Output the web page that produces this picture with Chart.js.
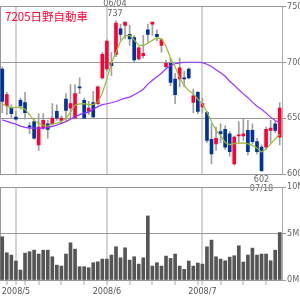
<!DOCTYPE html>
<html>
<head>
<meta charset="utf-8">
<script src="https://cdn.jsdelivr.net/npm/chart.js@4.4.0/dist/chart.umd.min.js"></script>
<style>
body { margin: 0; background: #fff; }
#wrap { position: relative; width: 300px; height: 300px; overflow: hidden; }
#wrap canvas { position: absolute; left: 0; }
#title { position: absolute; left: 5px; top: 10px; font: 11.5px/12px "Noto Sans CJK JP", sans-serif; color: #ff0033; white-space: nowrap; }
</style>
</head>
<body>
<div id="wrap">
  <canvas id="priceChart" width="300" height="200" style="top:0"></canvas>
  <canvas id="volumeChart" width="300" height="120" style="top:180px"></canvas>
  <div id="title">7205日野自動車</div>
</div>
<script>
// trading days 2008/04/25 - 2008/07/25
const dates = [
  '2008-04-25','2008-04-28','2008-04-30',
  '2008-05-01','2008-05-02','2008-05-07','2008-05-08','2008-05-09',
  '2008-05-12','2008-05-13','2008-05-14','2008-05-15','2008-05-16',
  '2008-05-19','2008-05-20','2008-05-21','2008-05-22','2008-05-23',
  '2008-05-26','2008-05-27','2008-05-28','2008-05-29','2008-05-30',
  '2008-06-02','2008-06-03','2008-06-04','2008-06-05','2008-06-06',
  '2008-06-09','2008-06-10','2008-06-11','2008-06-12','2008-06-13',
  '2008-06-16','2008-06-17','2008-06-18','2008-06-19','2008-06-20',
  '2008-06-23','2008-06-24','2008-06-25','2008-06-26','2008-06-27',
  '2008-06-30',
  '2008-07-01','2008-07-02','2008-07-03','2008-07-04',
  '2008-07-07','2008-07-08','2008-07-09','2008-07-10','2008-07-11',
  '2008-07-14','2008-07-15','2008-07-16','2008-07-17','2008-07-18',
  '2008-07-22','2008-07-23','2008-07-24','2008-07-25'
];

const openP = [694,661,659,651,666,664,643,647,626,641,645,645,656,648,667,659,650,678,666,656,
  664,663,686,694,699,707,730,733,725,722,703,706,729,734,725,715,696,699,685,685,
  686,694,664,673,660,655,631,627,638,640,636,609,634,634,639,639,629,624,624,639,645,633];
const highP = [696,673,662,656,668,673,646,650,654,654,648,663,662,652,672,680,680,686,668,665,
  674,679,709,720,709,737,734,736,733,724,714,724,734,736,729,721,702,704,690,704,
  692,695,676,674,668,656,645,642,645,643,638,634,647,649,648,645,632,626,642,648,647,664];
const lowP = [655,653,650,648,658,649,636,631,621,640,632,644,648,646,647,650,650,672,650,653,
  650,662,685,692,688,705,720,721,715,700,702,704,718,724,719,709,695,679,663,678,
  678,685,655,654,655,628,609,621,628,622,616,608,628,630,617,627,618,602,622,628,637,626];
const closeP = [665,671,654,649,661,655,642,632,642,648,640,650,650,650,657,663,672,677,650,659,
  651,678,707,719,697,735,725,736,721,702,713,708,725,736,723,720,699,682,671,695,
  685,686,670,656,663,630,618,632,636,624,620,633,635,636,620,629,620,603,640,641,639,659];

const ma5 = [662.8,660.7,659.2,659.6,659.8,658,653.1,647.8,645.5,643.3,
  642.9,644.6,645.5,646.9,650,655.4,661.6,662.8,662.9,662.1,
  662.1,664.3,672.3,685.1,699.1,708.9,718.8,723.7,724.1,720.1,
  715.4,714.9,717,719.6,721.9,721,714.3,703.6,696,686.2,
  679,674.6,671.9,667,662.5,655.4,646.9,639,634.4,628.1,
  626.3,627.2,627.7,627.9,627,625.6,623.2,619.6,622.3,626.8,
  631.3,635.7];
const ma25 = [648.5,647.1,645.8,644.6,642.9,641.7,641.1,641.1,641.1,641.1,
  641.5,642.6,643.8,645.3,646.9,649.1,651.2,653.1,654.5,655.4,
  658,660.3,662.1,662.9,663.8,664.9,666.5,667.9,668.8,671,
  673.2,675.9,680.4,683.9,687.1,690.2,694.2,696.9,698.7,699.4,
  700,700,700,700,699.7,698.2,696.2,693.3,690.6,687.5,
  683,679.5,675.4,671.7,668.3,664.3,660.7,658,654.5,650.9,
  647.8,646];

// volume in millions of shares
const volume = [4.64,2.93,2.68,2.04,1.07,2.89,3.04,3.21,2.79,3.21,
  3.21,2.5,1.6,1.5,2.79,4.0,3.32,1.43,1.43,1.32,
  1.86,1.96,2.25,2.25,2.68,3.57,2.39,3.46,2.14,2.5,
  1.71,2.39,6.89,1.5,1.86,1.5,2.57,2.32,2.79,1.5,
  1.14,2.04,1.5,1.82,1.71,3.57,4.29,2.5,2.25,2.07,
  2.46,2.61,3.68,1.93,2.68,3.43,2.68,2.79,2.79,2.07,
  3.21,5.1];

const priceRange = [600, 750];
const volumeRange = [0, 10];

const axisFont = { family: "'DejaVu Sans Condensed', 'Liberation Sans Narrow', 'DejaVu Sans', sans-serif", size: 9 };
const UP = '#ff0033', DOWN = '#003399', WICK = '#a0a0a0';

// month starts and first trading day of each week
function monthStart(i) {
    return i > 0 && dates[i].slice(5, 7) !== dates[i - 1].slice(5, 7);
}
function weekStart(i) {
    if (i === 0) return false;
    const d0 = new Date(dates[i - 1] + 'T00:00:00');
    const d1 = new Date(dates[i] + 'T00:00:00');
    return d1.getDay() <= d0.getDay() || (d1 - d0) > 6 * 864e5;
}

const frame = {
    id: 'frame',
    beforeDatasetsDraw(chart) {
        const a = chart.chartArea, ctx = chart.ctx;
        ctx.save();
        ctx.strokeStyle = '#999';
        ctx.lineWidth = 1;
        ctx.beginPath();
        ctx.moveTo(a.left + 0.5, a.top);
        ctx.lineTo(a.left + 0.5, a.bottom);
        ctx.stroke();
        ctx.restore();
    }
};

// high / low markers
const extremes = {
    id: 'extremes',
    afterDraw(chart) {
        const ctx = chart.ctx, xs = chart.scales.x, ys = chart.scales.y;
        const hi = highP.indexOf(Math.max(...highP));
        const lo = lowP.indexOf(Math.min(...lowP));
        ctx.save();
        ctx.fillStyle = '#666';
        ctx.font = '9px ' + axisFont.family;
        ctx.textAlign = 'center';
        let x = xs.getPixelForValue(hi), y = ys.getPixelForValue(highP[hi]);
        ctx.textBaseline = 'bottom';
        ctx.fillText(String(highP[hi]), x - 1, y - 3);
        ctx.fillText(dates[hi].slice(5).replace('-', '/'), x - 1, y - 13);
        x = xs.getPixelForValue(lo); y = ys.getPixelForValue(lowP[lo]);
        ctx.textBaseline = 'top';
        ctx.fillText(String(lowP[lo]), x, y + 3);
        ctx.fillText(dates[lo].slice(5).replace('-', '/'), x, y + 12);
        ctx.restore();
    }
};

const monthGrid = {
    offset: false,
    color: c => monthStart(c.index) ? '#d4d4d4' : 'rgba(0,0,0,0)',
    lineWidth: 2
};

new Chart(document.getElementById('priceChart'), {
    type: 'bar',
    data: {
        labels: dates,
        datasets: [
            { type: 'line', data: ma5, borderColor: '#99bb33', borderWidth: 1.2, pointRadius: 0, tension: 0, order: 0 },
            { type: 'line', data: ma25, borderColor: '#9933ff', borderWidth: 1.2, pointRadius: 0, tension: 0, order: 0 },
            {
                data: openP.map((o, i) => [o, closeP[i]]),
                backgroundColor: openP.map((o, i) => closeP[i] >= o ? UP : DOWN),
                barThickness: 3, grouped: false, order: 1
            },
            {
                data: lowP.map((l, i) => [l, highP[i]]),
                backgroundColor: WICK,
                barThickness: 1, grouped: false, order: 2
            }
        ]
    },
    options: {
        responsive: false,
        animation: false,
        devicePixelRatio: 1,
        layout: { padding: { left: 0, top: 4, right: 0, bottom: 26 } },
        plugins: { legend: { display: false }, tooltip: { enabled: false } },
        scales: {
            x: {
                grid: Object.assign({ drawTicks: false }, monthGrid),
                ticks: { display: false },
                border: { display: false },
                afterFit: s => { s.height = 0; }
            },
            y: {
                position: 'right',
                min: priceRange[0], max: priceRange[1],
                ticks: { stepSize: 50, color: '#666', font: axisFont, padding: 1 },
                grid: { color: '#999', tickLength: 4 },
                border: { color: '#aaa' },
                afterFit: s => { s.width = 18; }
            }
        }
    },
    plugins: [frame, extremes]
});

new Chart(document.getElementById('volumeChart'), {
    type: 'bar',
    data: {
        labels: dates,
        datasets: [{ data: volume, backgroundColor: '#555555', barThickness: 3 }]
    },
    options: {
        responsive: false,
        animation: false,
        devicePixelRatio: 1,
        layout: { padding: { left: 0, top: 7, right: 0, bottom: 0 } },
        plugins: { legend: { display: false }, tooltip: { enabled: false } },
        scales: {
            x: {
                grid: Object.assign({
                    tickLength: 5,
                    tickWidth: 1,
                    tickColor: c => (monthStart(c.index) || weekStart(c.index)) ? '#aaa' : 'rgba(0,0,0,0)'
                }, monthGrid),
                border: { display: false },
                ticks: {
                    autoSkip: false, maxRotation: 0, padding: 1,
                    color: '#555', font: axisFont,
                    callback: (v, i) => monthStart(i) ? dates[i].slice(0, 4) + '/' + Number(dates[i].slice(5, 7)) : ''
                },
                afterFit: s => { s.height = 20; }
            },
            y: {
                position: 'right',
                min: volumeRange[0], max: volumeRange[1],
                ticks: { stepSize: 5, color: '#666', font: axisFont, padding: 1, callback: v => v + 'M' },
                grid: { color: '#999', tickLength: 4 },
                border: { color: '#aaa' },
                afterFit: s => { s.width = 18; }
            }
        }
    },
    plugins: [frame]
});
</script>
</body>
</html>
